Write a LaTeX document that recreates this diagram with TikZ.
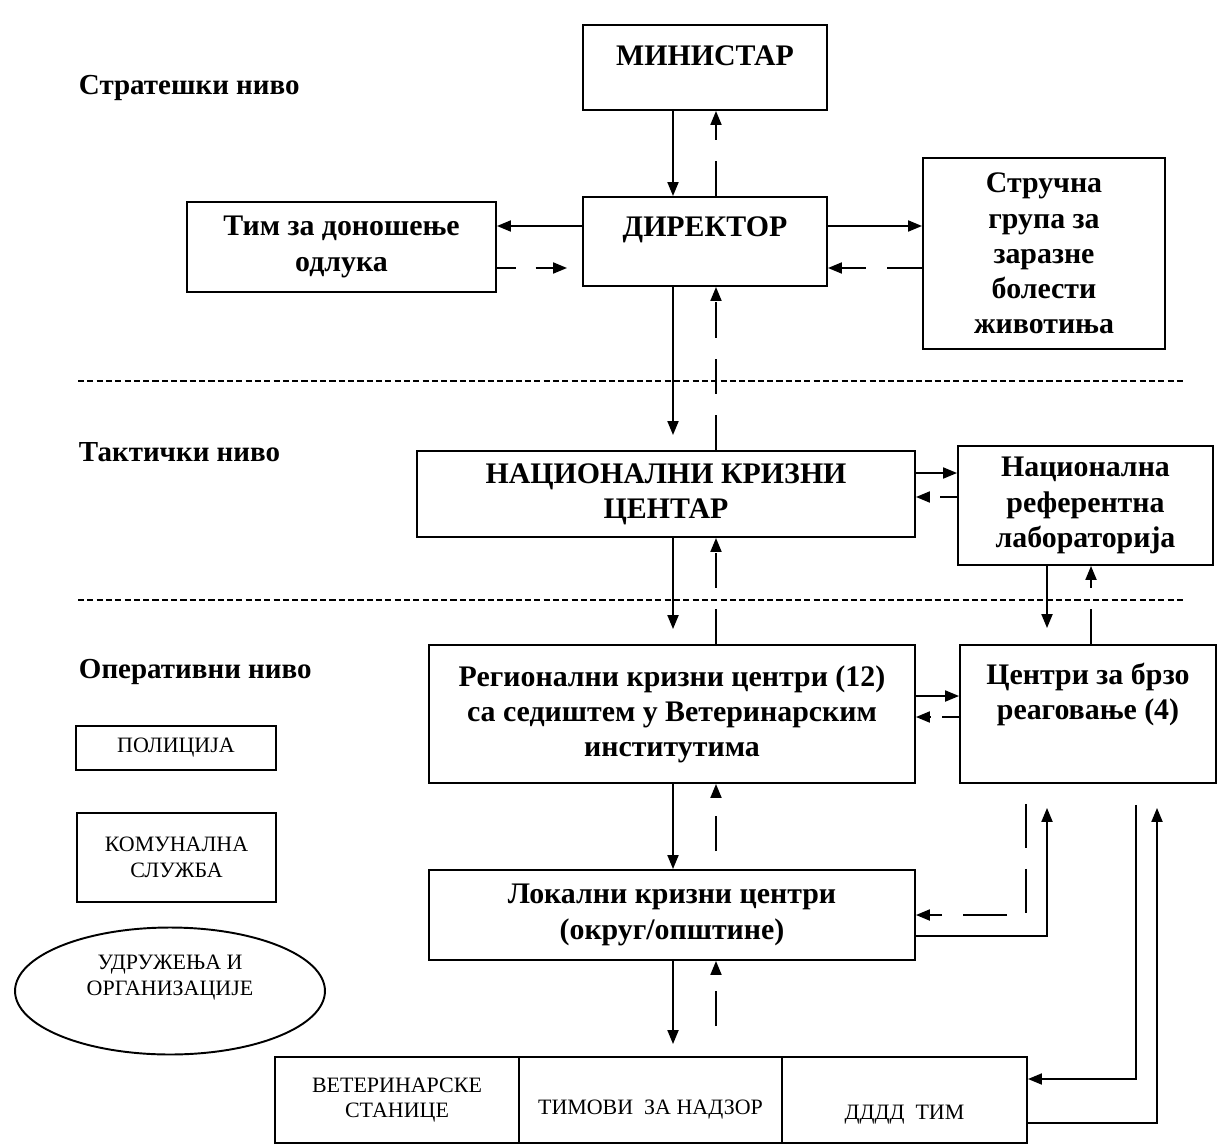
\documentclass[tikz,border=0pt]{standalone}
\usepackage{fontspec}
\setmainfont{Liberation Serif}
\usetikzlibrary{arrows.meta,shapes.geometric}

\begin{document}
\begin{tikzpicture}[x=0.02cm, y=-0.02cm, line width=1.1pt,
  >={Triangle[length=0.28cm,width=0.22cm]},
  box/.style={draw, rectangle, align=center, inner sep=0pt,
    font=\fontsize{17}{20}\selectfont\bfseries},
  smallbox/.style={draw, align=center, inner sep=0pt,
    font=\fontsize{12.5}{14.5}\selectfont},
  level/.style={anchor=west, inner sep=0pt,
    font=\fontsize{16.5}{19}\selectfont\bfseries},
  feedback/.style={->, dash pattern=on 20pt off 12pt},
  shortback/.style={->, dash pattern=on 11pt off 11pt},
  layer/.style={line width=1.6pt, dash pattern=on 3.5pt off 1.8pt}]
  \useasboundingbox (0,0) rectangle (1226,1145);

  \node[level] (strat) at (78,88) {Стратешки ниво};
  \node[level] (takt) at (78,452) {Тактички ниво};
  \node[level] (oper) at (78,672) {Оперативни ниво};

  \draw[layer] (78,381) -- (1183,381);
  \draw[layer] (78,600) -- (1183,600);

  \node[box, minimum width=4.88cm, minimum height=1.70cm, text height=12pt, text depth=14.8pt]
    (ministar) at (705,67.5) {МИНИСТАР};
  \node[box, minimum width=4.88cm, minimum height=1.78cm, text height=12pt, text depth=17.8pt]
    (direktor) at (705,241.5) {ДИРЕКТОР};
  \node[box, minimum width=6.18cm, minimum height=1.80cm] (tim) at (341.5,247)
    {Тим за доношење\\одлука};
  \node[box, minimum width=4.84cm, minimum height=3.82cm] (strucna) at (1044,253.5)
    {Стручна\\група за\\заразне\\болести\\животиња};
  \node[box, minimum width=9.96cm, minimum height=1.72cm] (nkc) at (666,494)
    {НАЦИОНАЛНИ КРИЗНИ\\ЦЕНТАР};
  \node[box, minimum width=5.10cm, minimum height=2.38cm] (lab) at (1085.5,505.5)
    {Национална\\референтна\\лабораторија};
  \node[box, minimum width=9.72cm, minimum height=2.76cm] (rkc) at (672,714)
    {Регионални кризни центри (12)\\са седиштем у Ветеринарским\\институтима};
  \node[box, minimum width=5.12cm, minimum height=2.76cm] (brzo) at (1088,714)
    {Центри за брзо\\реаговање (4)\\[6pt]\mbox{}};
  \node[box, minimum width=9.72cm, minimum height=1.80cm] (lkc) at (672,915)
    {Локални кризни центри\\(округ/општине)};

  \node[smallbox, minimum width=4.88cm, minimum height=1.72cm] (vet) at (397,1100)
    {ВЕТЕРИНАРСКЕ\\СТАНИЦЕ};
  \node[smallbox, minimum width=5.26cm, minimum height=1.72cm, text height=18pt, text depth=1.4pt]
    (nadzor) at (650.5,1100) {ТИМОВИ\ \ ЗА НАДЗОР};
  \node[smallbox, minimum width=4.90cm, minimum height=1.72cm, text height=24pt, text depth=1.4pt]
    (dddd) at (904.5,1100) {ДДДД\ \ ТИМ};

  \node[smallbox, minimum width=4.00cm, minimum height=0.88cm] (policija) at (176,748)
    {ПОЛИЦИЈА};
  \node[smallbox, minimum width=3.98cm, minimum height=1.78cm] (komunal) at (176.5,857.5)
    {КОМУНАЛНА\\СЛУЖБА};
  \node[smallbox, ellipse, minimum width=6.20cm, minimum height=2.54cm] (udruz) at (170,991)
    {УДРУЖЕЊА И\\ОРГАНИЗАЦИЈЕ\\[3.5pt]\mbox{}};

  \coordinate (cA) at (673,0);
  \coordinate (cB) at (716,0);
  \coordinate (cC) at (1047,0);
  \coordinate (cD) at (1091,0);
  \coordinate (cE) at (1026,0);
  \coordinate (cF) at (1136,0);
  \coordinate (cG) at (1157,0);
  \coordinate (ra) at (0,226);
  \coordinate (rb) at (0,268);
  \coordinate (rc) at (0,473);
  \coordinate (rd) at (0,497);
  \coordinate (re) at (0,696);
  \coordinate (rf) at (0,717);
  \coordinate (rg) at (0,915);
  \coordinate (rh) at (0,936);
  \coordinate (ri) at (0,1079);
  \coordinate (rj) at (0,1123);

  \draw[->] (ministar.south -| cA) -- (direktor.north -| cA);
  \draw[feedback] (direktor.north -| cB) -- (ministar.south -| cB);
  \draw[->] (direktor.west |- ra) -- (tim.east |- ra);
  \draw[shortback, shorten >=0.3cm] (tim.east |- rb) -- (direktor.west |- rb);
  \draw[->] (direktor.east |- ra) -- (strucna.west |- ra);
  \draw[feedback] (strucna.west |- rb) -- (direktor.east |- rb);

  \draw[->, shorten >=0.3cm] (direktor.south -| cA) -- (nkc.north -| cA);
  \draw[feedback] (nkc.north -| cB) -- (direktor.south -| cB);
  \draw[->] (nkc.east |- rc) -- (lab.west |- rc);
  \draw[->, dash pattern=on 10pt off 6pt] (lab.west |- rd) -- (nkc.east |- rd);

  \draw[->, shorten >=0.3cm] (nkc.south -| cA) -- (rkc.north -| cA);
  \draw[feedback] (rkc.north -| cB) -- (nkc.south -| cB);
  \draw[->, shorten >=0.32cm] (lab.south -| cC) -- (brzo.north -| cC);
  \draw[feedback] (brzo.north -| cD) -- (lab.south -| cD);
  \draw[->] (rkc.east |- re) -- (brzo.west |- re);
  \draw[->, dash pattern=on 10pt off 6pt] (brzo.west |- rf) -- (rkc.east |- rf);

  \draw[->] (rkc.south -| cA) -- (lkc.north -| cA);
  \draw[feedback, shorten <=0.36cm] (lkc.north -| cB) -- (rkc.south -| cB);
  \draw[feedback, dash pattern=on 25pt off 12pt, shorten <=0.4cm] (brzo.south -| cE) |- (lkc.east |- rg);
  \draw[->, shorten >=0.48cm] (lkc.east |- rh) -| (brzo.south -| cC);

  \draw[->, shorten >=0.24cm] (lkc.south -| cA) -- (nadzor.north -| cA);
  \draw[feedback, shorten <=0.6cm] (nadzor.north -| cB) -- (lkc.south -| cB);
  \draw[->, shorten <=0.42cm] (brzo.south -| cF) |- (dddd.east |- ri);
  \draw[->, shorten >=0.48cm] (dddd.east |- rj) -| (brzo.south -| cG);

\end{tikzpicture}
\end{document}
